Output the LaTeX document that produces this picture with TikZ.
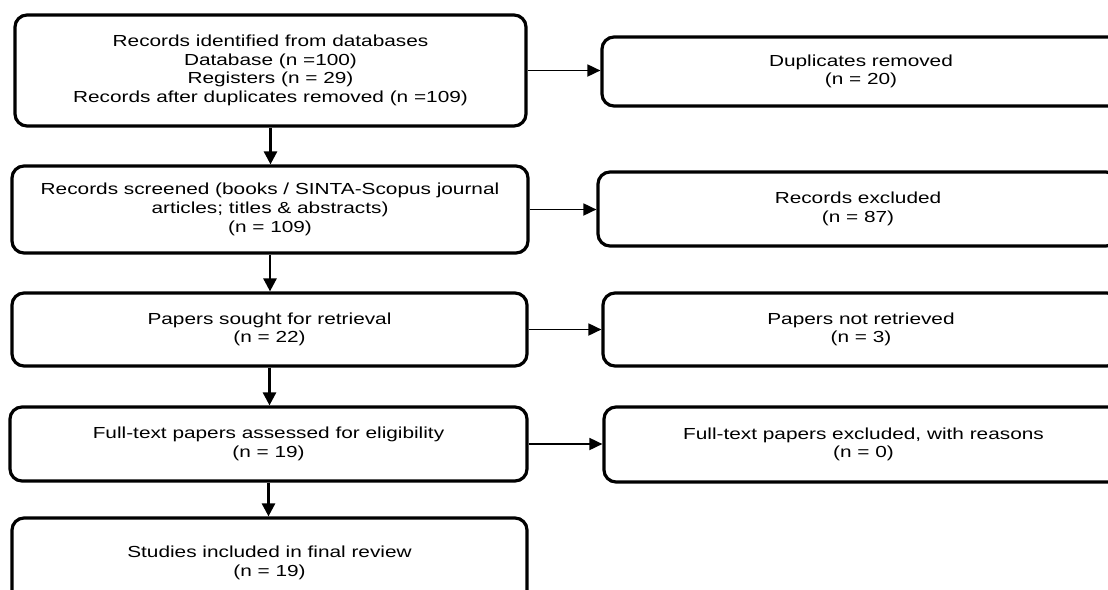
\documentclass[tikz,border=0pt]{standalone}
\usepackage{fontspec}
\setmainfont[FakeStretch=1.3]{Liberation Sans}
\usetikzlibrary{arrows.meta}
\tikzset{
  box/.style={draw=black, line width=3.2pt, rounded corners=12pt, align=center,
    inner sep=0pt, font=\fontsize{16}{18.7}\selectfont},
  link/.style={draw=black, line width=2.6pt, -{Triangle[length=13pt,width=13pt]}},
  hlink/.style={draw=black, line width=1.8pt, -{Triangle[length=13pt,width=12pt]}}
}
\begin{document}
\begin{tikzpicture}[x=1pt,y=-1pt]
\clip (0,0) rectangle (1108,589);
\fill[white] (0,0) rectangle (1108,589);
% left column
\node[box, minimum width=511pt, minimum height=111pt] (b1) at (270.5,70.5)
  {Records identified from databases\\Database (n =100)\\Registers (n = 29)\\Records after duplicates removed (n =109)};
\node[box, minimum width=516pt, minimum height=87pt] (b2) at (270,209.5)
  {Records screened (books / SINTA-Scopus journal\\articles; titles \& abstracts)\\(n = 109)};
\node[box, minimum width=515pt, minimum height=73pt] (b3) at (269.5,329.5)
  {Papers sought for retrieval\\(n = 22)};
\node[box, minimum width=517pt, minimum height=74pt] (b4) at (268.5,444)
  {Full-text papers assessed for eligibility\\(n = 19)};
\node[box, minimum width=515pt, minimum height=90pt] (b5) at (269.5,563)
  {Studies included in final review\\(n = 19)};
% right column
\node[box, minimum width=518pt, minimum height=69pt] (r1) at (861,71.5)
  {Duplicates removed\\(n = 20)};
\node[box, minimum width=520pt, minimum height=74pt] (r2) at (858,209)
  {Records excluded\\(n = 87)};
\node[box, minimum width=516pt, minimum height=73pt] (r3) at (861,329.5)
  {Papers not retrieved\\(n = 3)};
\node[box, minimum width=519pt, minimum height=75pt] (r4) at (863.5,444.5)
  {Full-text papers excluded, with reasons\\(n = 0)};
% vertical arrows
\draw[link] (b1.south) -- (b1.south |- b2.north);
\draw[link] (b2.south) -- (b2.south |- b3.north);
\draw[link] (b3.south) -- (b3.south |- b4.north);
\draw[link] (b4.south) -- (b4.south |- b5.north);
% horizontal arrows
\draw[hlink] (b1.east) -- (b1.east -| r1.west);
\draw[hlink] (b2.east) -- (b2.east -| r2.west);
\draw[hlink] (b3.east) -- (b3.east -| r3.west);
\draw[hlink] (b4.east) -- (b4.east -| r4.west);
\end{tikzpicture}
\end{document}
